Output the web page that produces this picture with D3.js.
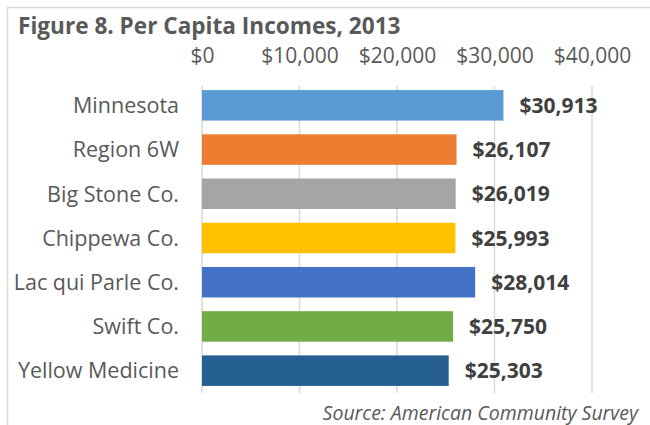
<!DOCTYPE html>
<html>
<head>
<meta charset="utf-8">
<script src="https://cdn.jsdelivr.net/npm/d3@7"></script>
<style>
  body { margin: 0; background: #fff; }
  svg { font-family: "Open Sans", sans-serif; }
</style>
</head>
<body>
<div id="chart"></div>
<script>
const categories = ["Minnesota", "Region 6W", "Big Stone Co.", "Chippewa Co.", "Lac qui Parle Co.", "Swift Co.", "Yellow Medicine"];
const incomes = [30913, 26107, 26019, 25993, 28014, 25750, 25303];
const barColors = ["#5B9BD5", "#ED7D31", "#A5A5A5", "#FFC000", "#4472C4", "#70AD47", "#255E91"];
const tickValues = [0, 10000, 20000, 30000, 40000];

const width = 650, height = 425;
const fmt = d3.format("$,");
const textColor = "#595959";

const svg = d3.select("#chart").append("svg")
  .attr("width", width)
  .attr("height", height);

svg.append("rect")
  .attr("x", 7.5).attr("y", 7.5)
  .attr("width", width).attr("height", height)
  .attr("fill", "none").attr("stroke", "#D9D9D9").attr("stroke-width", 1.5);

const x = d3.scaleLinear().domain([0, 40000]).range([202, 592]);
const y = d3.scaleBand().domain(categories).range([83, 393]).paddingInner(0.31).paddingOuter(0.16);

// gridlines
svg.append("g").selectAll("line")
  .data(tickValues)
  .join("line")
  .attr("x1", d => x(d)).attr("x2", d => x(d))
  .attr("y1", 86).attr("y2", 393)
  .attr("stroke", "#D9D9D9").attr("stroke-width", 1.5);

// top axis
const xAxis = svg.append("g")
  .attr("transform", "translate(0,63)")
  .call(d3.axisTop(x).tickValues(tickValues).tickFormat(fmt).tickSize(0).tickPadding(0));
xAxis.select(".domain").remove();
xAxis.selectAll("text")
  .attr("dy", 0)
  .attr("fill", textColor)
  .style("font-family", "'Open Sans', sans-serif")
  .style("font-size", "21px");

// bars
svg.append("g").selectAll("rect")
  .data(incomes)
  .join("rect")
  .attr("x", x(0))
  .attr("y", (d, i) => y(categories[i]))
  .attr("width", d => x(d) - x(0))
  .attr("height", y.bandwidth())
  .attr("fill", (d, i) => barColors[i]);

// category labels
svg.append("g").selectAll("text")
  .data(categories)
  .join("text")
  .attr("x", 179)
  .attr("y", d => y(d) + y.bandwidth() / 2)
  .attr("dy", "0.36em")
  .attr("text-anchor", "end")
  .attr("fill", textColor)
  .style("font-size", "21.5px")
  .text(d => d);

// value labels
svg.append("g").selectAll("text")
  .data(incomes)
  .join("text")
  .attr("x", d => x(d) + 16)
  .attr("y", (d, i) => y(categories[i]) + y.bandwidth() / 2)
  .attr("dy", "0.36em")
  .attr("fill", "#404040")
  .style("font-size", "21px")
  .style("font-weight", "bold")
  .text(d => fmt(d));

svg.append("text")
  .attr("x", 18).attr("y", 34)
  .attr("fill", textColor)
  .style("font-size", "22.6px")
  .style("font-weight", "bold")
  .text("Figure 8. Per Capita Incomes, 2013");

svg.append("text")
  .attr("x", 638).attr("y", 420)
  .attr("text-anchor", "end")
  .attr("fill", textColor)
  .style("font-size", "19.5px")
  .style("font-style", "italic")
  .text("Source: American Community Survey");
</script>
</body>
</html>
